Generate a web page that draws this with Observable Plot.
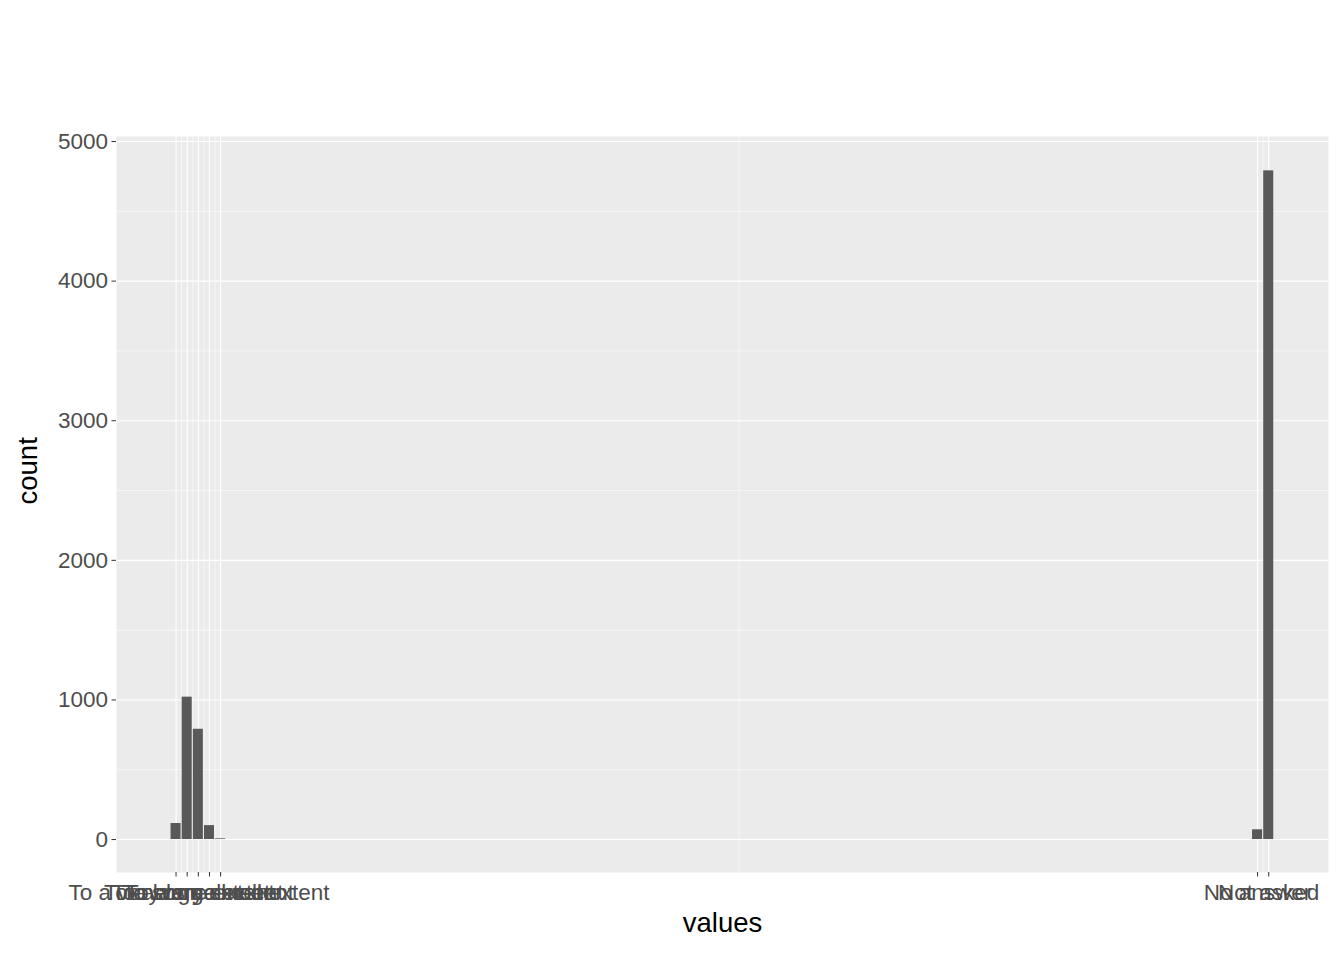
<!DOCTYPE html>
<html><head><meta charset="utf-8">
<script src="https://cdn.jsdelivr.net/npm/d3@7"></script>
<script src="https://cdn.jsdelivr.net/npm/@observablehq/plot@0.6"></script>
<style>
body{margin:0;background:#fff;font-family:Arial,"Liberation Sans",sans-serif;}
#wrap{position:relative;width:1344px;height:960px;}
.t{position:absolute;left:116px;color:#000;white-space:nowrap;}
</style></head><body>
<div id="wrap">
<div class="t" style="top:11px;font-size:33px;line-height:38px;">r9pad2</div>
<div class="t" style="top:58px;font-size:27.5px;line-height:31px;">To what extent do people in Norway accept decisions about important<br>social issues adopted by politicians/authorities</div>
<div id="chart" style="position:absolute;left:0;top:0;"></div>
</div>
<script>
const values = [1, 2, 3, 4, 5, 98, 99];
const labels = ["To a very large extent", "To a large extent", "To some extent", "To a small extent", "To a very small extent", "No answer", "Not asked"];
const counts = [115, 1020, 790, 100, 5, 70, 4790];
const data = values.map((v, i) => ({v, label: labels[i], n: counts[i]}));
const minorX = [];
for (let i = 0; i < values.length - 1; i++) minorX.push((values[i] + values[i + 1]) / 2);
const yMajor = [0, 1000, 2000, 3000, 4000, 5000];
const yMinor = [500, 1500, 2500, 3500, 4500];
const lab = new Map(values.map((v, i) => [v, labels[i]]));

const plot = Plot.plot({
  width: 1344, height: 960,
  marginLeft: 116, marginRight: 16, marginTop: 136, marginBottom: 88,
  x: {domain: [-4.34, 104.36], axis: null},
  y: {domain: [-236, 5036], axis: null},
  style: {fontFamily: "Arial, 'Liberation Sans', sans-serif", background: "#fff"},
  marks: [
    Plot.frame({fill: "#EBEBEB", stroke: null}),
    Plot.gridX(minorX, {stroke: "#fff", strokeOpacity: 1, strokeWidth: 0.55}),
    Plot.gridY(yMinor, {stroke: "#fff", strokeOpacity: 1, strokeWidth: 0.55}),
    Plot.gridX(values, {stroke: "#fff", strokeOpacity: 1, strokeWidth: 1.1}),
    Plot.gridY(yMajor, {stroke: "#fff", strokeOpacity: 1, strokeWidth: 1.1}),
    Plot.rectY(data, {x1: d => d.v - 0.45, x2: d => d.v + 0.45, y1: 0, y2: "n", fill: "#595959"}),
    Plot.axisX(values, {tickSize: 4.5, stroke: "#333", tickFormat: d => lab.get(d), fontSize: 22.5, fill: "#4D4D4D", tickPadding: 7, label: null}),
    Plot.axisY(yMajor, {tickSize: 4.5, stroke: "#333", fontSize: 22.5, fill: "#4D4D4D", tickPadding: 4, label: null, tickFormat: d => String(d)}),
    Plot.text(["values"], {frameAnchor: "bottom", dy: 59, fontSize: 27.5, fill: "#000"}),
    Plot.text(["count"], {frameAnchor: "left", dx: -88, rotate: -90, fontSize: 27.5, fill: "#000"})
  ]
});
document.getElementById("chart").appendChild(plot);
</script>
</body></html>
